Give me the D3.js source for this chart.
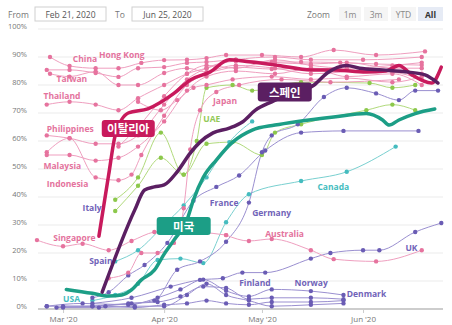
<!DOCTYPE html>
<html><head><meta charset="utf-8">
<script src="https://cdn.jsdelivr.net/npm/d3@7"></script>
<style>body{margin:0;background:#fff}svg{display:block;font-family:"Open Sans",Lato,sans-serif}</style>
</head><body><svg id="c" width="452" height="325"></svg>
<script>
// ---------- DATA (date "MM-DD" in 2020, percent) ----------
const italy = [["03-12",26],["03-15",48],["03-17",62],["03-21",70],["03-27",71.5],["04-04",77],["04-09",81.8],["04-15",84.6],["04-21",89],["04-27",88.3],["05-06",87],["05-16",85.4],["05-23",85.4],["06-02",84.6],["06-08",85],["06-12",87],["06-16",83.6],["06-22",80.7],["06-25",86.4]];
const spain = [["03-13",6],["03-23",35.4],["03-26",42.5],["03-29",43.6],["04-01",44.3],["04-05",49],["04-09",55.7],["04-12",59.6],["04-16",62.9],["04-21",64.6],["04-25",66.8],["04-29",71],["05-04",74],["05-10",77],["05-17",80],["05-21",84.3],["05-27",87],["05-31",86],["06-07",85.4],["06-15",84.6],["06-20",83.6],["06-24",80.7]];
const usa = [["03-02",7],["03-10",5.6],["03-15",4.6],["03-19",5],["03-22",6.8],["03-25",10.4],["03-29",13.9],["04-01",19.6],["04-04",24.6],["04-08",31.8],["04-10",39],["04-13",47],["04-17",53.2],["04-22",59.6],["04-28",63.9],["05-05",65.7],["05-12",67],["05-23",68.6],["06-02",69.8],["06-07",67.5],["06-09",65.7],["06-12",67.5],["06-17",69.8],["06-23",71.4]];

const china = [["02-26",90],["03-03",86.8],["03-11",86],["03-18",86],["03-25",87.9],["04-01",88.9],["04-08",89],["04-14",89.6],["04-20",90.7],["05-01",90.7],["05-13",90],["05-23",92.5],["06-05",90.7],["06-20",92]];
const hongKong = [["02-25",85.4],["03-03",85.4],["03-11",84.3],["03-18",82.9],["03-24",86],["04-01",86.4],["04-08",87.9],["04-14",88.2],["04-23",89],["05-04",88.2],["05-13",88.2],["05-25",88],["06-05",87.5],["06-19",87.1]];
const taiwan = [["02-26",84],["03-03",83],["03-11",84.8],["03-18",80],["03-24",80],["04-01",84.3],["04-08",86],["04-14",84.6],["04-23",86.4],["05-04",85.7],["05-16",86],["05-27",85.4],["06-10",84.6],["06-19",82]];
const thailand = [["02-25",73],["03-03",74],["03-11",73],["03-18",71],["03-24",75.3],["04-01",80],["04-08",84],["04-14",86],["04-23",88.5],["05-05",88],["05-16",87.5],["05-27",88],["06-10",86],["06-19",86]];
const philippines = [["02-25",62],["03-03",61],["03-11",59],["03-18",59],["03-24",62],["04-01",73],["04-08",82],["04-14",86],["04-23",89],["05-05",90],["05-16",89],["06-01",89],["06-19",90]];
const malaysia = [["02-25",55],["03-03",55],["03-11",53],["03-18",54],["03-24",58],["04-01",67],["04-08",78],["04-14",83],["04-23",85],["05-05",84],["05-16",86],["05-27",83],["06-10",84],["06-19",80]];
const indonesia = [["02-25",56],["03-03",61],["03-11",47],["03-18",46],["03-22",48],["03-25",55],["04-01",69],["04-08",80],["04-14",84],["04-23",87],["05-05",86],["05-16",84],["06-01",85],["06-19",84]];
const singapore = [["02-22",24.6],["03-01",22.4],["03-07",23.3],["03-15",21],["03-22",24.3],["03-29",27.5],["04-03",28],["04-12",27.5],["04-20",26.4]];
const australia = [["04-20",26.4],["04-27",24.3],["05-04",25],["05-16",21],["05-23",17.8],["06-05",17],["06-19",21]];
const india = [["03-15",11],["03-21",13],["03-25",20],["03-30",20],["04-04",23.6],["04-07",36],["04-09",57],["04-12",71],["04-17",77.5],["04-24",80],["05-07",82],["05-22",81],["06-12",82]];
const japan = [["03-24",74],["03-31",71],["04-05",74.6],["04-10",79],["04-14",80],["04-22",82],["05-04",83],["05-16",82],["05-27",82.5],["06-10",81],["06-19",83]];
const vietnam = [["03-18",58],["03-24",65],["04-01",76],["04-08",84],["04-14",87],["04-23",86],["05-05",89],["05-16",87],["05-27",86],["06-10",87],["06-19",88]];

const france = [["03-10",4],["03-15",6],["03-21",12],["03-26",15.7],["04-02",23.6],["04-10",38.7],["04-17",43.6],["04-24",47.7],["05-02",56.6],["05-13",63],["05-26",63.6],["06-18",63.6]];
const germany = [["02-25",1],["03-10",1],["03-22",2],["03-29",3],["04-05",14],["04-12",17],["04-20",24],["04-27",38],["05-01",56],["05-04",62],["05-12",66],["05-20",75.7],["05-27",79],["06-05",77],["06-12",74.6],["06-17",78],["06-24",78]];
const uk = [["03-10",2],["03-22",4],["04-03",8],["04-12",10.4],["04-19",11],["04-25",13],["05-02",13],["05-16",18],["05-22",20],["06-01",21],["06-06",21],["06-17",27.5],["06-25",30.7]];
const finland = [["02-25",1],["03-07",2],["03-21",1.5],["03-30",4],["04-06",7],["04-13",10.5],["04-20",6.5],["04-27",4.5],["05-04",7],["05-16",6.4],["05-26",5]];
const norway = [["02-28",0.5],["03-10",1],["03-21",2],["03-30",2.5],["04-06",4.5],["04-13",8],["04-20",7.5],["04-27",3.5],["05-04",4],["05-16",4],["05-26",3.5]];
const denmark = [["03-01",1],["03-14",1],["03-23",0.5],["04-01",1.5],["04-08",2],["04-14",3],["04-20",2],["04-27",1.5],["05-04",2.5],["05-16",2.5],["05-26",3]];
const sweden = [["03-01",0.5],["03-12",0.5],["03-23",1],["04-01",1],["04-08",5],["04-14",9],["04-20",5],["04-27",3],["05-04",1],["05-16",1.5],["05-26",2]];

const canada = [["03-10",3],["03-17",5],["03-24",9],["03-30",17.5],["04-06",18],["04-13",16.4],["04-20",31],["04-27",41],["05-13",45.7],["05-27",49],["06-11",58]];
const mexico = [["03-17",17],["03-24",21],["04-01",30],["04-07",37],["04-14",47],["04-21",59.6],["04-28",67]];

const uae = [["03-17",39],["03-24",47],["03-31",63],["04-07",48],["04-11",60],["04-14",79],["04-22",80],["04-28",78],["05-13",81],["06-03",80.7],["06-10",79],["06-17",80]];
const saudi = [["03-17",35],["03-24",44],["03-31",54],["04-07",48],["04-14",59],["04-22",59.6],["05-01",55],["05-05",63],["05-13",66],["06-02",71],["06-10",73],["06-17",71]];

const yTicks = [0,10,20,30,40,50,60,70,80,90,100];
const xTicks = ["03-01","04-01","05-01","06-01"];

const labels = [
  ["China","03-04",89.6,"asia"],["Hong Kong","03-12",90.9,"asia"],["Taiwan","02-28",82.5,"asia"],
  ["Thailand","02-24",76.4,"asia"],["Philippines","02-25",64.3,"asia"],["Malaysia","02-24",51.4,"asia"],
  ["Indonesia","02-25",45,"asia"],["Italy","03-07",36.1,"eu"],["Singapore","02-27",25.4,"asia"],
  ["Spain","03-09",17.5,"eu"],["USA","03-01",3.9,"am"],["Japan","04-16",74.3,"asia"],
  ["UAE","04-13",67.9,"me"],["Canada","05-18",43.9,"am"],["France","04-15",38.2,"eu"],
  ["Germany","04-28",34.6,"eu"],["Australia","05-02",27.1,"asia"],["Finland","04-24",9.6,"eu"],
  ["Norway","05-11",9.6,"eu"],["Denmark","05-27",5.4,"eu"],["UK","06-14",21.8,"eu"]
];
const callouts = [["이탈리아","03-21",64.5,"italy",53,17],["스페인","05-08",77.5,"spain",54,19],["미국","04-07",29.6,"usa",54,18]];

// ---------- CHART ----------
const parse = s => d3.timeParse("%Y-%m-%d")("2020-" + s);
const svg = d3.select("#c");
const x = d3.scaleTime().domain([new Date(2020,1,21), new Date(2020,5,25)]).range([33.7, 441.3]);
const y = d3.scaleLinear().domain([0,100]).range([309,29]);

const thin = {
  asia:{line:"#ef9fbf",dot:"#e6739e",text:"#e4739d"},
  eu:{line:"#9a8fd0",dot:"#6a5cb4",text:"#7063b8"},
  am:{line:"#79d0d0",dot:"#45bcbf",text:"#45bdc0"},
  me:{line:"#b1da7c",dot:"#8cc84b",text:"#93c957"}
};
const thick = {italy:"#c81a5c", spain:"#5b1f62", usa:"#1c9e86"};

const series = [
  [canada,"am"],[mexico,"am"],
  [uae,"me"],[saudi,"me"],
  [france,"eu"],[germany,"eu"],[uk,"eu"],[finland,"eu"],[norway,"eu"],[denmark,"eu"],[sweden,"eu"],
  [china,"asia"],[hongKong,"asia"],[taiwan,"asia"],[thailand,"asia"],[philippines,"asia"],[malaysia,"asia"],
  [indonesia,"asia"],[singapore,"asia"],[australia,"asia"],[india,"asia"],[japan,"asia"],[vietnam,"asia"]
];

// header controls
const hdr = svg.append("g").attr("font-size",8.5).attr("dominant-baseline","central");
hdr.append("text").attr("x",8).attr("y",14).attr("fill","#777").text("From");
hdr.append("rect").attr("x",35).attr("y",7).attr("width",71).attr("height",14).attr("fill","#fff").attr("stroke","#d0d0d0");
hdr.append("text").attr("x",70.5).attr("y",14).attr("text-anchor","middle").attr("fill","#555").text("Feb 21, 2020");
hdr.append("text").attr("x",115).attr("y",14).attr("fill","#777").text("To");
hdr.append("rect").attr("x",132).attr("y",7).attr("width",71).attr("height",14).attr("fill","#fff").attr("stroke","#d0d0d0");
hdr.append("text").attr("x",167.5).attr("y",14).attr("text-anchor","middle").attr("fill","#555").text("Jun 25, 2020");
hdr.append("text").attr("x",307).attr("y",14).attr("fill","#777").text("Zoom");
[["1m",339,22,false],["3m",364,24,false],["YTD",391,25,false],["All",418,25,true]].forEach(([t,bx,w,sel])=>{
  hdr.append("rect").attr("x",bx).attr("y",7).attr("width",w).attr("height",14).attr("fill",sel?"#e6ebf5":"#f5f5f5");
  hdr.append("text").attr("x",bx+w/2).attr("y",14).attr("text-anchor","middle")
    .attr("fill",sel?"#333":"#888").attr("font-weight",sel?700:400).text(t);
});

// grid + y labels
const grid = svg.append("g");
yTicks.forEach(v=>{
  grid.append("line").attr("x1",38).attr("x2",443).attr("y1",y(v)).attr("y2",y(v))
    .attr("stroke", v===0?"#bdbdbd":"#ebebeb").attr("stroke-width", v===0?1.6:1);
  grid.append("text").attr("x",27).attr("y",y(v)-3).attr("text-anchor","end").attr("dominant-baseline","central")
    .attr("font-size",7.5).attr("fill","#777").text(v+"%");
});

// x axis
const xa = svg.append("g").attr("transform","translate(0,309)")
  .call(d3.axisBottom(x).tickValues(xTicks.map(parse)).tickFormat(d3.timeFormat("%b '%y")).tickSize(4));
xa.select(".domain").remove();
xa.selectAll("line").attr("stroke","#ccc");
xa.selectAll("text").attr("font-size",8).attr("fill","#777").attr("font-family","'Open Sans',sans-serif");

const line = d3.line().x(d=>x(parse(d[0]))).y(d=>y(d[1])).curve(d3.curveMonotoneX);

// thin series
const thinG = svg.append("g");
series.forEach(([data,g])=>{
  thinG.append("path").attr("d",line(data)).attr("fill","none").attr("stroke",thin[g].line).attr("stroke-width",1);
});
series.forEach(([data,g])=>{
  thinG.selectAll(null).data(data).enter().append("circle")
    .attr("cx",d=>x(parse(d[0]))).attr("cy",d=>y(d[1])).attr("r",2.2).attr("fill",thin[g].dot);
});

// labels
svg.append("g").selectAll("text").data(labels).enter().append("text")
  .attr("x",d=>x(parse(d[1]))).attr("y",d=>y(d[2])).attr("dominant-baseline","central")
  .attr("font-size",8.5).attr("font-weight",700).attr("fill",d=>thin[d[3]].text).text(d=>d[0]);

// thick series
[[usa,"usa"],[italy,"italy"],[spain,"spain"]].forEach(([data,k])=>{
  svg.append("path").attr("d",line(data)).attr("fill","none").attr("stroke",thick[k])
    .attr("stroke-width",3.5).attr("stroke-linecap","round").attr("stroke-linejoin","round");
});

// callout boxes
callouts.forEach(([t,dt,v,k,w,h])=>{
  const cx = x(parse(dt)), cy = y(v);
  svg.append("rect").attr("x",cx-w/2).attr("y",cy-h/2).attr("width",w).attr("height",h).attr("rx",3)
    .attr("fill",thick[k]);
  svg.append("text").attr("x",cx).attr("y",cy).attr("text-anchor","middle").attr("dominant-baseline","central")
    .attr("font-family","'Noto Sans CJK KR',sans-serif").attr("font-size",11.5).attr("font-weight",700)
    .attr("fill","#fff").text(t);
});
</script></body></html>
